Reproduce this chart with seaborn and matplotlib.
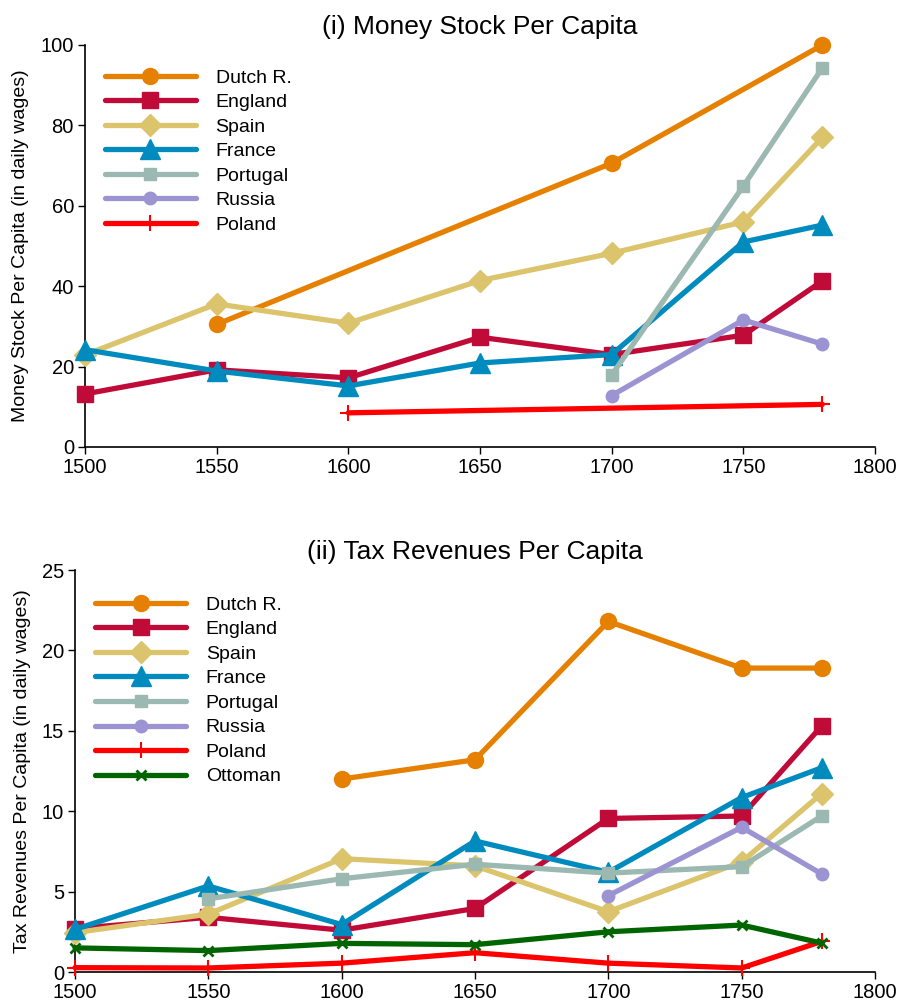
import numpy as np
import pandas as pd
import matplotlib
matplotlib.use("Agg")
import matplotlib.pyplot as plt
import seaborn as sns

nan = np.nan
years = [1500, 1550, 1600, 1650, 1700, 1750, 1780]

countries_top = ["Dutch R.", "England", "Spain", "France", "Portugal", "Russia", "Poland"]
countries_bottom = ["Dutch R.", "England", "Spain", "France", "Portugal", "Russia", "Poland", "Ottoman"]

# (i) Money stock per capita
money_dutch = [nan, 30.5, nan, nan, 70.6, nan, 100.0]
money_england = [13.2, 19.2, 17.2, 27.3, 23.0, 27.8, 41.3]
money_spain = [22.9, 35.6, 30.8, 41.4, 48.2, 56.0, 77.0]
money_france = [24.2, 18.9, 15.2, 20.9, 23.0, 51.0, 55.2]
money_portugal = [nan, nan, nan, nan, 17.9, 64.9, 94.3]
money_russia = [nan, nan, nan, nan, 12.8, 31.6, 25.6]
money_poland = [nan, nan, 8.5, nan, nan, nan, 10.6]

# (ii) Tax revenues per capita
tax_dutch = [nan, nan, 12.0, 13.2, 21.8, 18.9, 18.9]
tax_england = [2.7, 3.4, 2.6, 3.95, 9.55, 9.7, 15.3]
tax_spain = [2.45, 3.6, 7.05, 6.6, 3.75, 6.85, 11.1]
tax_france = [2.65, 5.35, 2.95, 8.15, 6.2, 10.85, 12.7]
tax_portugal = [nan, 4.55, 5.8, 6.7, 6.15, 6.55, 9.7]
tax_russia = [nan, nan, nan, nan, 4.75, 9.0, 6.1]
tax_poland = [0.27, 0.25, 0.55, 1.2, 0.55, 0.25, 1.9]
tax_ottoman = [1.5, 1.33, 1.78, 1.7, 2.5, 2.92, 1.8]

money = [money_dutch, money_england, money_spain, money_france,
         money_portugal, money_russia, money_poland]
tax = [tax_dutch, tax_england, tax_spain, tax_france, tax_portugal,
       tax_russia, tax_poland, tax_ottoman]

styles = {
    "Dutch R.": dict(color="#E58000", marker="o", markersize=11.5, mew=1),
    "England": dict(color="#C00A38", marker="s", markersize=11, mew=1),
    "Spain": dict(color="#DBC46C", marker="D", markersize=11, mew=1),
    "France": dict(color="#008BBE", marker="^", markersize=14, mew=1),
    "Portugal": dict(color="#9BB8B1", marker="s", markersize=8.6, mew=1),
    "Russia": dict(color="#9C93D3", marker="o", markersize=9, mew=1),
    "Poland": dict(color="#FF0000", marker="+", markersize=12, mew=1.5),
    "Ottoman": dict(color="#006400", marker="x", markersize=7.5, mew=2),
}

sns.set_style("ticks")
plt.rcParams["font.family"] = ["Liberation Sans", "DejaVu Sans"]
plt.rcParams["xtick.direction"] = "out"
plt.rcParams["ytick.direction"] = "out"
plt.rcParams["text.color"] = "black"
plt.rcParams["axes.labelcolor"] = "black"
plt.rcParams["xtick.color"] = "black"
plt.rcParams["ytick.color"] = "black"

fig = plt.figure(figsize=(8.99, 10.02), dpi=100)
ax1 = fig.add_axes([85/899, 1-447/1002, 790/899, 402/1002])
ax2 = fig.add_axes([75/899, 1-972/1002, 800/899, 402/1002])


def draw(ax, names, series):
    for name, vals in zip(names, series):
        st = styles[name]
        df = pd.DataFrame({"year": years, "value": vals}).dropna()
        sns.lineplot(data=df, x="year", y="value", ax=ax, color=st["color"],
                     marker=st["marker"], markersize=st["markersize"],
                     markeredgecolor=st["color"], markerfacecolor=st["color"],
                     markeredgewidth=st["mew"], linewidth=3.8, label=name,
                     clip_on=False, zorder=3)


draw(ax1, countries_top, money)
draw(ax2, countries_bottom, tax)

ax1.set_xlim(1500, 1800)
ax1.set_ylim(0, 100)
ax1.set_yticks([0, 20, 40, 60, 80, 100])
ax2.set_xlim(1500, 1800)
ax2.set_ylim(0, 25)
ax2.set_yticks([0, 5, 10, 15, 20, 25])
for ax in (ax1, ax2):
    ax.set_xticks([1500, 1550, 1600, 1650, 1700, 1750, 1800])
    ax.tick_params(labelsize=14.5, length=5, width=1, color="black",
                   labelcolor="black", pad=3)
    for s in ("top", "right"):
        ax.spines[s].set_visible(False)
    for s in ("left", "bottom"):
        ax.spines[s].set_linewidth(1.2)
        ax.spines[s].set_color("black")
    ax.set_xlabel("")

ax1.set_ylabel("Money Stock Per Capita (in daily wages)", fontsize=14, labelpad=8)
ax2.set_ylabel("Tax Revenues Per Capita (in daily wages)", fontsize=14, labelpad=8)
ax1.set_title("(i) Money Stock Per Capita", fontsize=19, pad=8)
ax2.set_title("(ii) Tax Revenues Per Capita", fontsize=19, pad=8)

for ax, anchor in ((ax1, (0.025, 0.94)), (ax2, (0.025, 0.935))):
    leg = ax.legend(loc="upper left", bbox_to_anchor=anchor, frameon=False,
                    fontsize=14, handlelength=4.7, handletextpad=1.0,
                    labelspacing=0.355, borderpad=0, borderaxespad=0)
    for t in leg.get_texts():
        t.set_color("black")

fig.savefig("out.png", dpi=100)
